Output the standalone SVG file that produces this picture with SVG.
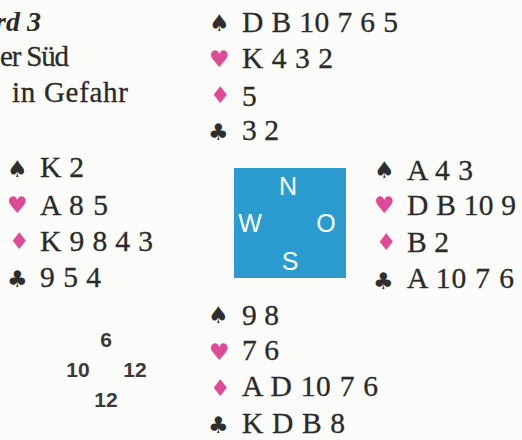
<svg xmlns="http://www.w3.org/2000/svg" width="522" height="440" viewBox="0 0 522 440">
<style>
.bg{fill:#fcfcfb}
.c{font-family:"Liberation Serif","Times New Roman",serif;font-size:29.5px;fill:#2a2a2a;stroke:#2a2a2a;stroke-width:0.3px}
.t{font-family:"Liberation Serif","Times New Roman",serif;font-size:29px;fill:#2a2a2a;stroke:#2a2a2a;stroke-width:0.3px}
.ti{font-family:"Liberation Serif","Times New Roman",serif;font-size:28px;fill:#2a2a2a;font-weight:bold;font-style:italic}
.s{font-family:"DejaVu Sans",sans-serif;font-size:23px;fill:#2e2e2e}
.r{font-family:"DejaVu Sans",sans-serif;font-size:23px;fill:#dc4c96}
.cmp{font-family:"Liberation Sans",Arial,sans-serif;font-size:25px;fill:#ffffff;text-anchor:middle}
.n{font-family:"Liberation Sans",Arial,sans-serif;font-size:21px;font-weight:bold;fill:#3a3a3a;text-anchor:middle}
</style>
<rect class="bg" x="0" y="0" width="522" height="440"/>
<g id="title">
<text class="ti" x="-5" y="31">rd <tspan x="27">3</tspan></text>
<text class="t" x="0" y="66" textLength="69" lengthAdjust="spacing">er Süd</text>
<text class="t" x="12" y="102" textLength="116">in Gefahr</text>
</g>
<g id="north">
<text class="s" x="209" y="31">♠</text><text class="c" x="242" y="32" textLength="156">D B 10 7 6 5</text>
<text class="r" x="209" y="67">♥</text><text class="c" x="242" y="68" textLength="91">K 4 3 2</text>
<text class="r" x="210" y="103">♦</text><text class="c" x="242" y="106">5</text>
<text class="s" x="208" y="140">♣</text><text class="c" x="242" y="140" textLength="37">3 2</text>
</g>
<g id="west">
<text class="s" x="7" y="177">♠</text><text class="c" x="40" y="177" textLength="44">K 2</text>
<text class="r" x="7" y="213">♥</text><text class="c" x="40" y="215" textLength="68">A 8 5</text>
<text class="r" x="9" y="249">♦</text><text class="c" x="40" y="251" textLength="113">K 9 8 4 3</text>
<text class="s" x="7" y="287">♣</text><text class="c" x="40" y="287" textLength="61">9 5 4</text>
</g>
<g id="east">
<text class="s" x="374" y="178">♠</text><text class="c" x="407" y="180" textLength="66">A 4 3</text>
<text class="r" x="374" y="213">♥</text><text class="c" x="407" y="215" textLength="109">D B 10 9</text>
<text class="r" x="376" y="250">♦</text><text class="c" x="407" y="252" textLength="42">B 2</text>
<text class="s" x="373" y="289">♣</text><text class="c" x="407" y="288" textLength="107">A 10 7 6</text>
</g>
<g id="south">
<text class="s" x="208" y="323">♠</text><text class="c" x="242" y="325" textLength="37">9 8</text>
<text class="r" x="209" y="360">♥</text><text class="c" x="242" y="360" textLength="37">7 6</text>
<text class="r" x="210" y="396">♦</text><text class="c" x="242" y="396" textLength="136">A D 10 7 6</text>
<text class="s" x="208" y="433">♣</text><text class="c" x="242" y="433" textLength="103">K D B 8</text>
</g>
<g id="compass">
<rect x="234" y="168" width="112" height="110" fill="#2b9bd0"/>
<text class="cmp" x="288" y="195">N</text>
<text class="cmp" x="250" y="232">W</text>
<text class="cmp" x="326" y="232">O</text>
<text class="cmp" x="290" y="270">S</text>
</g>
<g id="scores">
<text class="n" x="106" y="347">6</text>
<text class="n" x="78" y="377">10</text>
<text class="n" x="135" y="377">12</text>
<text class="n" x="106" y="407">12</text>
</g>
</svg>
